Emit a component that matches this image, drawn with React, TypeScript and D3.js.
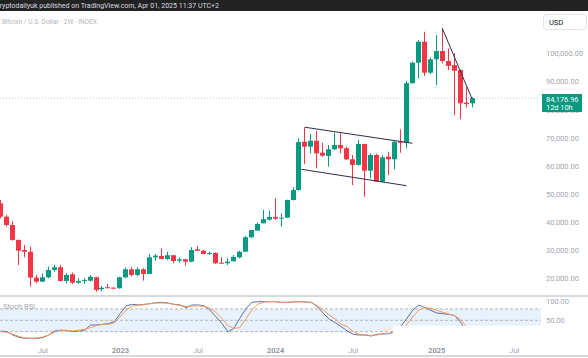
import React from "react";
import * as d3 from "d3";

const W = 588;
const H = 358;

// bar dates: 2-week candles starting at this date
const startDate = new Date(2022, 2, 28);
const barCount = 80;

const open = [
  46800, 42050, 39100, 33800, 30200, 29600, 20400, 18950, 20500, 23100,
  24050, 19200, 21550, 18600, 19300, 19300, 20500, 16250, 16950, 16800,
  16600, 20500, 23350, 21350, 23350, 21700, 27600, 28100, 27000, 28350,
  26400, 26900, 26050, 30450, 29950, 28900, 29150, 25700, 25500, 26200,
  27600, 29600, 34750, 37100, 39700, 41000, 42000, 41400, 41700, 48000,
  51550, 68700, 66950, 69050, 64800, 63650, 66000, 67550, 66400, 62450,
  60450, 67900, 58400, 64000, 54500, 63400, 62450, 68700, 68350, 89500,
  96800, 104250, 93250, 98000, 100950, 97400, 95950, 94200, 82600, 82350,
];
const high = [
  48000, 42700, 40500, 33900, 32000, 31400, 21300, 21900, 24300, 24900,
  24900, 21900, 22150, 20150, 20150, 21300, 20700, 17400, 18150, 17000,
  20700, 24050, 24050, 24050, 23700, 28800, 28800, 30800, 29600, 28350,
  27600, 27100, 31200, 31650, 30200, 29600, 29400, 27600, 27250, 28450,
  29950, 35200, 37400, 39900, 44450, 44100, 48600, 43250, 48100, 52500,
  69900, 73850, 71450, 72650, 68350, 67550, 71900, 71700, 66950, 64000,
  69300, 68000, 64600, 64400, 64000, 65150, 68800, 73100, 90400, 97150,
  104850, 107800, 98700, 106650, 109050, 101900, 100150, 94300, 88250, 84500,
];
const low = [
  41500, 38500, 33500, 24900, 27600, 17200, 18400, 18900, 20150, 22500,
  19000, 18400, 18150, 18150, 18100, 18950, 15400, 15550, 16600, 16400,
  16500, 20150, 20900, 20900, 19300, 21650, 26400, 26900, 26650, 25500,
  25700, 24650, 25900, 29800, 28700, 28450, 25250, 25150, 24900, 26200,
  27250, 29600, 34400, 37100, 39700, 40700, 40900, 38500, 41600, 47800,
  51300, 60800, 64600, 59250, 63400, 59850, 65750, 64600, 62200, 53300,
  60200, 49150, 55700, 54400, 54300, 56900, 58900, 64800, 66350, 89400,
  91250, 92050, 92800, 88850, 96600, 94200, 78200, 76700, 80950, 80950,
];
const close = [
  42050, 39100, 33800, 29950, 29600, 20400, 18950, 20500, 23100, 24050,
  19200, 21300, 18600, 19200, 19550, 20700, 16000, 16800, 16700, 16600,
  20500, 23350, 21350, 23350, 21700, 27600, 28200, 27000, 28350, 26300,
  26900, 26050, 30200, 29950, 28800, 29150, 25500, 25350, 26050, 27750,
  29600, 34750, 37300, 39450, 41150, 41950, 41350, 41700, 48000, 51550,
  68600, 66950, 69050, 64600, 63750, 66000, 67550, 66350, 62450, 60450,
  67900, 58400, 64000, 54500, 63150, 62450, 68700, 68350, 89500, 96800,
  104250, 93250, 98000, 100950, 97400, 95650, 93950, 82350, 82100, 84176.96,
];

const stochK = [
  21.7, 19.9, 11.1, 4.9, 2.3, 2.3, 2.3, 4.1, 11.1, 21.7,
  23.5, 23.5, 19.9, 21.7, 23.5, 37.6, 37.6, 39.3, 41.1, 46.4,
  68.4, 88.7, 92.2, 90.5, 92.2, 94.0, 96.6, 97.5, 95.8, 92.2,
  90.5, 83.4, 90.5, 90.5, 88.7, 77.2, 59.6, 42.0, 19.9, 28.7,
  55.2, 79.9, 97.5, 99.3, 99.3, 99.3, 99.3, 97.5, 97.5, 98.5,
  99.3, 98.4, 97.5, 86.1, 68.4, 52.5, 43.7, 33.2, 21.7, 12.9,
  11.1, 11.1, 8.5, 12.9, 13.8, 14.6, 19.9, 34.9, 55.2, 77.2,
  90.5, 83.4, 76.4, 69.3, 67.5, 65.8, 62.3, 44.6, 19.9, 12.9,
];
const stochD = [
  19.9, 18.2, 12.9, 7.6, 3.2, 2.3, 3.2, 5.8, 11.1, 19.0,
  23.5, 22.6, 21.7, 23.5, 26.1, 30.5, 35.8, 39.3, 39.3, 42.9,
  59.6, 77.2, 87.8, 89.6, 91.4, 94.0, 95.8, 95.8, 94.9, 92.2,
  88.7, 86.9, 87.8, 88.7, 86.9, 81.7, 71.1, 55.2, 35.8, 28.7,
  30.5, 53.4, 77.2, 92.2, 98.4, 99.3, 99.3, 97.5, 97.5, 98.5,
  99.3, 98.4, 96.6, 88.7, 77.2, 64.0, 53.4, 39.3, 33.2, 19.9,
  12.9, 11.1, 10.2, 11.1, 14.6, 15.5, 18.2, 24.7, 39.3, 59.6,
  77.2, 83.4, 81.7, 76.4, 71.1, 66.7, 62.3, 51.7, 33.2, 19.9,
];

const priceTicks = [20000, 30000, 40000, 50000, 60000, 70000, 80000, 90000, 100000];
const stochTicks = [100, 50];
const stochLevels = [80, 50, 20];
const timeTickDates = [
  new Date(2022, 6, 1), new Date(2023, 0, 1), new Date(2023, 6, 1),
  new Date(2024, 0, 1), new Date(2024, 6, 1), new Date(2025, 0, 1), new Date(2025, 6, 1),
];
const timeTickLabels = ["Jul", "2023", "Jul", "2024", "Jul", "2025", "Jul"];

// drawn trend lines: [bar index, price] pairs
const trendStartIdx = [51, 50.4, 74];
const trendStartPrice = [73850, 58900, 109050];
const trendEndIdx = [69, 68, 79];
const trendEndPrice = [68150, 53070, 83900];

const lastPrice = 84176.96;
const countdown = "12d 10h";

const UP = "#089981";
const DOWN = "#f23645";
const FONT = "Roboto, 'Liberation Sans', Arial, sans-serif";

export default function App() {
  const x = d3.scaleLinear().domain([0, barCount - 1]).range([1, 472.6]);
  const y = d3.scaleLinear().domain([20000, 100000]).range([278.7, 53.7]);
  const ys = d3.scaleLinear().domain([0, 100]).range([339.2, 301.4]);
  const plotRight = 541;
  const fmt = d3.format(",.2f");

  const idx = d3.range(barCount);
  const kLine = d3.line<number>().x((i) => x(i)).y((i) => ys(stochK[i]))(idx) || "";
  const dLine = d3.line<number>().x((i) => x(i)).y((i) => ys(stochD[i]))(idx) || "";

  const tickIdx = timeTickDates.map((d) =>
    Math.ceil(d3.timeDay.count(startDate, d) / 14)
  );

  return (
    <svg
      width={W}
      height={H}
      style={{ position: "fixed", left: 0, top: 0, background: "#fff" }}
      fontFamily={FONT}
    >
      <rect x={0} y={0} width={W} height={H} fill="#fff" />
      {/* header */}
      <rect x={0} y={0} width={W} height={11} fill="#222" />
      <text x={-4} y={8.3} fontSize={7.6} fill="#d8dae0" textLength={223} lengthAdjust="spacingAndGlyphs">
        cryptodailyuk published on TradingView.com, Apr 01, 2025 11:37 UTC+2
      </text>
      <text x={2} y={24.3} fontSize={7} fill="#b2b5be" textLength={95} lengthAdjust="spacingAndGlyphs">
        Bitcoin / U.S. Dollar · 2W · INDEX
      </text>

      {/* USD box */}
      <rect x={543.5} y={14.5} width={43} height={15} rx={3} fill="#fff" stroke="#e0e3eb" />
      <text x={549} y={24.5} fontSize={7.5} fill="#131722">USD</text>

      {/* price axis labels */}
      {priceTicks.map((p) => (
        <text key={p} x={546} y={y(p)} dy="0.35em" fontSize={7.5} fill="#a3a6af">
          {fmt(p)}
        </text>
      ))}

      {/* price line */}
      <line x1={0} x2={plotRight} y1={y(lastPrice)} y2={y(lastPrice)} stroke="#a9c8dc" strokeDasharray="1 2" />

      {/* candles */}
      {idx.map((i) => {
        const cx = Math.round(x(i));
        const up = close[i] >= open[i];
        const col = up ? UP : DOWN;
        const top = y(Math.max(open[i], close[i]));
        const bot = y(Math.min(open[i], close[i]));
        return (
          <g key={i}>
            <rect x={cx - 1} y={y(high[i])} width={1} height={Math.max(1, y(low[i]) - y(high[i]))} fill={col} />
            <rect x={cx - 3} y={top} width={5} height={Math.max(1, bot - top)} fill={col} />
          </g>
        );
      })}

      {/* trend lines */}
      {trendStartIdx.map((s, j) => (
        <line
          key={j}
          x1={x(s) - 0.5}
          y1={y(trendStartPrice[j])}
          x2={x(trendEndIdx[j]) - 0.5}
          y2={y(trendEndPrice[j])}
          stroke="#2b2f4a"
          strokeWidth={1}
        />
      ))}

      {/* last price label */}
      <rect x={542} y={94} width={40} height={18} fill={UP} />
      <text x={546} y={101.6} fontSize={7.4} fill="#fff">{fmt(lastPrice)}</text>
      <text x={546} y={109.6} fontSize={7.4} fill="#fff">{countdown}</text>

      {/* separators */}
      <rect x={0} y={295} width={W} height={2} fill="#d6d8de" />
      <rect x={0} y={355} width={W} height={2} fill="#d6d8de" />

      {/* stoch panel */}
      <rect x={0} y={ys(80)} width={plotRight} height={ys(20) - ys(80)} fill="#e8f2fd" />
      {stochLevels.map((l) => (
        <line key={l} x1={0} x2={plotRight} y1={ys(l)} y2={ys(l)} stroke="#b2b5be" strokeDasharray="3 2" />
      ))}
      <path d={kLine} fill="none" stroke="#5e6ea3" strokeWidth={1} />
      <path d={dLine} fill="none" stroke="#f7995a" strokeWidth={1} />
      <rect x={393} y={325.7} width={W - 393} height={20} fill="#fff" />
      <text x={3} y={309} fontSize={7.5} fill="#a3a6af">Stoch RSI</text>
      {stochTicks.map((t) => (
        <text key={t} x={546} y={ys(t)} dy="0.35em" fontSize={7.5} fill="#a3a6af">
          {d3.format(".2f")(t)}
        </text>
      ))}

      {/* time axis */}
      {tickIdx.map((ti, j) => {
        const isYear = timeTickLabels[j] !== "Jul";
        return (
          <text
            key={j}
            x={x(ti)}
            y={350}
            dy="0.35em"
            textAnchor="middle"
            fontSize={7.5}
            fontWeight={isYear ? 600 : 400}
            fill={isYear ? "#8a8d96" : "#a3a6af"}
          >
            {timeTickLabels[j]}
          </text>
        );
      })}
    </svg>
  );
}
